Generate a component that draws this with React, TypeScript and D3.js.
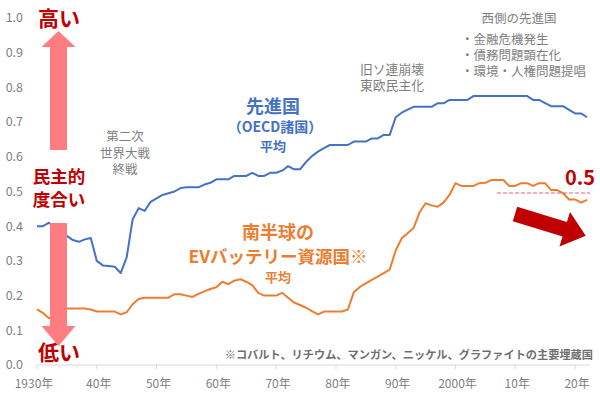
import React from "react";
import * as d3 from "d3";

const startYear = 1930;
const oecd = [
  0.40, 0.40, 0.41, 0.395, 0.385, 0.372, 0.36, 0.355, 0.362, 0.366,
  0.30, 0.287, 0.285, 0.283, 0.265, 0.31, 0.42, 0.452, 0.444, 0.47,
  0.48, 0.49, 0.495, 0.50, 0.51, 0.512, 0.512, 0.512, 0.52, 0.525,
  0.535, 0.535, 0.535, 0.545, 0.545, 0.545, 0.554, 0.545, 0.545, 0.554,
  0.554, 0.56, 0.573, 0.564, 0.564, 0.585, 0.602, 0.615, 0.625, 0.634,
  0.634, 0.634, 0.634, 0.644, 0.644, 0.644, 0.653, 0.653, 0.663, 0.663,
  0.714, 0.727, 0.736, 0.744, 0.744, 0.744, 0.744, 0.754, 0.754, 0.764,
  0.764, 0.764, 0.764, 0.775, 0.775, 0.775, 0.775, 0.775, 0.775, 0.775,
  0.775, 0.775, 0.775, 0.764, 0.764, 0.755, 0.746, 0.746, 0.746, 0.735,
  0.725, 0.725, 0.714,
];
const evSouth = [
  0.16, 0.15, 0.135, 0.145, 0.16, 0.163, 0.163, 0.163, 0.163, 0.16,
  0.154, 0.154, 0.154, 0.154, 0.146, 0.152, 0.175, 0.19, 0.194, 0.194,
  0.194, 0.194, 0.194, 0.204, 0.204, 0.2, 0.196, 0.205, 0.212, 0.219,
  0.224, 0.24, 0.233, 0.243, 0.247, 0.24, 0.23, 0.208, 0.2, 0.2,
  0.2, 0.208, 0.194, 0.18, 0.173, 0.165, 0.155, 0.146, 0.154, 0.154,
  0.154, 0.154, 0.16, 0.21, 0.225, 0.235, 0.245, 0.255, 0.265, 0.275,
  0.33, 0.365, 0.38, 0.395, 0.44, 0.466, 0.46, 0.456, 0.468, 0.49,
  0.524, 0.516, 0.516, 0.516, 0.524, 0.525, 0.533, 0.533, 0.533, 0.516,
  0.516, 0.524, 0.524, 0.516, 0.524, 0.524, 0.504, 0.504, 0.495, 0.477,
  0.477, 0.468, 0.476,
];
const yTicks = [0, 0.1, 0.2, 0.3, 0.4, 0.5, 0.6, 0.7, 0.8, 0.9, 1.0];
const xTickYears = [1930, 1940, 1950, 1960, 1970, 1980, 1990, 2000, 2010, 2020];
const xTickLabels = ["1930年", "40年", "50年", "60年", "70年", "80年", "90年", "2000年", "10年", "20年"];
const refLevel = 0.5;

const FONT = "'Noto Sans CJK JP', 'Noto Sans', sans-serif";
const TIGHT_FONT = "'Liberation Sans', 'Noto Sans CJK JP', sans-serif";
const GRAY = "#7f7f7f";
const DARKRED = "#c00000";
const BLUE = "#4472c4";
const ORANGE = "#ed7d31";
const PINK = "#ff7c80";

function Lines({ x, y, lines, gap, anchor, size, fill, weight }: any) {
  return (
    <g>
      {lines.map((s: string, i: number) => (
        <text
          key={i}
          x={x}
          y={y + i * gap}
          dy="0.35em"
          textAnchor={anchor}
          fontSize={size}
          fill={fill}
          fontFamily={TIGHT_FONT}
          fontWeight={weight || "normal"}
        >
          {s}
        </text>
      ))}
    </g>
  );
}

export default function App() {
  const W = 600, H = 397;
  const x = d3.scaleLinear().domain([1930, 2022]).range([37, 587]);
  const y = d3.scaleLinear().domain([0, 1]).range([365, 18]);
  const line = d3
    .line<number>()
    .x((_, i) => x(startYear + i))
    .y((d) => y(d));

  const pts = (arr: number[][]) => arr.map((p) => p.join(",")).join(" ");
  const upArrow = (cx: number, top: number, bottom: number, shaftW: number, headW: number, headL: number) =>
    pts([
      [cx, top],
      [cx + headW / 2, top + headL],
      [cx + shaftW / 2, top + headL],
      [cx + shaftW / 2, bottom],
      [cx - shaftW / 2, bottom],
      [cx - shaftW / 2, top + headL],
      [cx - headW / 2, top + headL],
    ]);
  const downArrow = (cx: number, top: number, bottom: number, shaftW: number, headW: number, headL: number) =>
    pts([
      [cx, bottom],
      [cx + headW / 2, bottom - headL],
      [cx + shaftW / 2, bottom - headL],
      [cx + shaftW / 2, top],
      [cx - shaftW / 2, top],
      [cx - shaftW / 2, bottom - headL],
      [cx - headW / 2, bottom - headL],
    ]);

  const L = 74, sw = 15, hw = 36, hl = 22;
  const diag = pts([
    [0, -sw / 2],
    [L - hl, -sw / 2],
    [L - hl, -hw / 2],
    [L, 0],
    [L - hl, hw / 2],
    [L - hl, sw / 2],
    [0, sw / 2],
  ]);

  return (
    <svg
      width={W}
      height={H}
      style={{ position: "absolute", left: 0, top: 0, background: "#fff", fontFamily: FONT }}
    >
      <rect x={0} y={0} width={W} height={H} fill="#fff" />
      {yTicks.map((t) => (
        <text key={t} x={23} y={y(t)} dy="0.35em" textAnchor="end" fontSize={12.5} fill={GRAY}>
          {t.toFixed(1)}
        </text>
      ))}
      <line x1={37} x2={590} y1={y(0)} y2={y(0)} stroke="#d9d9d9" strokeWidth={1} />
      {xTickYears.map((yr, i) => (
        <g key={yr}>
          <line x1={x(yr)} x2={x(yr)} y1={y(0)} y2={y(0) + 4} stroke="#d9d9d9" />
          <text x={x(yr) + (i === 0 ? -3 : 2)} y={384} dy="0.35em" textAnchor="middle" fontSize={12} fill={GRAY}>
            {xTickLabels[i]}
          </text>
        </g>
      ))}

      <path d={line(oecd) || ""} fill="none" stroke={BLUE} strokeWidth={2} strokeLinejoin="round" />
      <path d={line(evSouth) || ""} fill="none" stroke={ORANGE} strokeWidth={2} strokeLinejoin="round" />

      <line x1={497} x2={590} y1={y(refLevel) + 1.5} y2={y(refLevel) + 1.5} stroke="#e0607a" strokeWidth={1} strokeDasharray="4,2" />
      <text x={595} y={178} dy="0.35em" textAnchor="end" fontSize={20} fontWeight="bold" fill={DARKRED}>
        0.5
      </text>

      <polygon points={upArrow(58.5, 31, 150, 17, 34, 16)} fill={PINK} />
      <polygon points={downArrow(58.5, 223, 346, 17, 34, 20)} fill={PINK} />
      <polygon points={diag} fill={DARKRED} transform="translate(515,214) rotate(17)" />

      <text x={59} y={19} dy="0.35em" textAnchor="middle" fontSize={21} fontWeight="bold" fill={DARKRED}>
        高い
      </text>
      <Lines x={59} y={177} lines={["民主的", "度合い"]} gap={22.5} anchor="middle" size={17.5} fill={DARKRED} weight="bold" />
      <text x={59} y={353} dy="0.35em" textAnchor="middle" fontSize={21} fontWeight="bold" fill={DARKRED}>
        低い
      </text>

      <Lines x={125} y={137} lines={["第二次", "世界大戦", "終戦"]} gap={16.5} anchor="middle" size={12.5} fill={GRAY} />
      <Lines x={360} y={70} lines={["旧ソ連崩壊", "東欧民主化"]} gap={16} anchor="start" size={12.8} fill={GRAY} />
      <text x={519} y={19} dy="0.35em" textAnchor="middle" fontSize={12.5} fill={GRAY}>
        西側の先進国
      </text>
      <Lines
        x={461}
        y={39.5}
        lines={["・金融危機発生", "・債務問題顕在化", "・環境・人権問題提唱"]}
        gap={16}
        anchor="start"
        size={12.5}
        fill={GRAY}
      />

      <text x={273} y={107} dy="0.35em" textAnchor="middle" fontSize={18} fontWeight="bold" fill={BLUE}>
        先進国
      </text>
      <text x={275} y={127} dy="0.35em" textAnchor="middle" fontSize={14} fontWeight="bold" fill={BLUE}>
        （OECD諸国）
      </text>
      <text x={273} y={146} dy="0.35em" textAnchor="middle" fontSize={13} fontWeight="bold" fill={BLUE}>
        平均
      </text>

      <text x={278} y={233} dy="0.35em" textAnchor="middle" fontSize={18} fontWeight="bold" fill={ORANGE}>
        南半球の
      </text>
      <text x={278} y={257} dy="0.35em" textAnchor="middle" fontSize={17.5} fontWeight="bold" fill={ORANGE}>
        EVバッテリー資源国※
      </text>
      <text x={278} y={277} dy="0.35em" textAnchor="middle" fontSize={13} fontWeight="bold" fill={ORANGE}>
        平均
      </text>

      <text x={593} y={355} dy="0.35em" textAnchor="end" fontSize={11.2} fontWeight="bold" fill="#6f6f6f">
        ※コバルト、リチウム、マンガン、ニッケル、グラファイトの主要埋蔵国
      </text>
    </svg>
  );
}
